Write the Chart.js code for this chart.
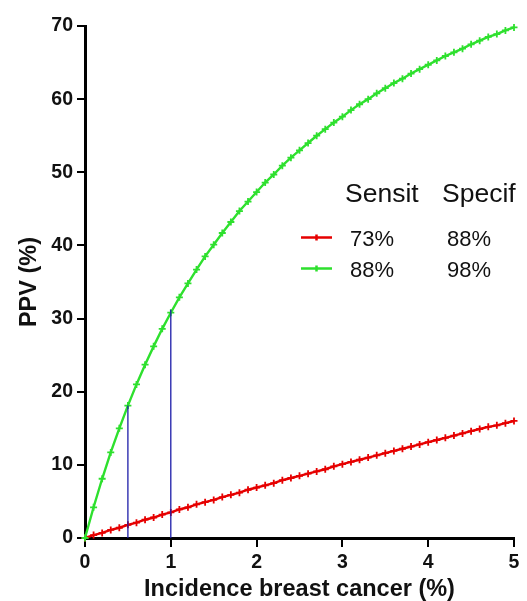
<!DOCTYPE html>
<html>
<head>
<meta charset="utf-8">
<title>PPV vs incidence</title>
<script src="https://cdn.jsdelivr.net/npm/chart.js@4"></script>
<style>
  body { margin: 0; background: #fff; }
  canvas { display: block; }
</style>
</head>
<body>
<canvas id="ppv-chart" width="527" height="601"></canvas>
<script>
// Incidence of breast cancer (%), one point every 0.1
const incidence = [
    0, 0.1, 0.2, 0.3, 0.4, 0.5, 0.6, 0.7, 0.8, 0.9,
    1.0, 1.1, 1.2, 1.3, 1.4, 1.5, 1.6, 1.7, 1.8, 1.9,
    2.0, 2.1, 2.2, 2.3, 2.4, 2.5, 2.6, 2.7, 2.8, 2.9,
    3.0, 3.1, 3.2, 3.3, 3.4, 3.5, 3.6, 3.7, 3.8, 3.9,
    4.0, 4.1, 4.2, 4.3, 4.4, 4.5, 4.6, 4.7, 4.8, 4.9, 5.0
];

// PPV (%) (sensit 73%, specif 88%)
const ppvRed = [
    0, 0.4, 0.7, 1.1, 1.4, 1.8, 2.1, 2.5, 2.8, 3.2,
    3.5, 3.9, 4.2, 4.6, 4.9, 5.2, 5.6, 5.9, 6.2, 6.6,
    6.9, 7.2, 7.5, 7.9, 8.2, 8.5, 8.8, 9.1, 9.4, 9.8,
    10.1, 10.4, 10.7, 11.0, 11.3, 11.6, 11.9, 12.2, 12.5, 12.8,
    13.1, 13.4, 13.7, 14.0, 14.3, 14.6, 14.9, 15.2, 15.4, 15.7, 16.0
];

// PPV (%) (sensit 88%, specif 98%)
const ppvGreen = [
    0, 4.2, 8.1, 11.7, 15.0, 18.1, 21.0, 23.7, 26.2, 28.6,
    30.8, 32.9, 34.8, 36.7, 38.5, 40.1, 41.7, 43.2, 44.7, 46.0,
    47.3, 48.6, 49.7, 50.9, 52.0, 53.0, 54.0, 55.0, 55.9, 56.8,
    57.6, 58.5, 59.3, 60.0, 60.8, 61.5, 62.2, 62.8, 63.5, 64.1,
    64.7, 65.3, 65.9, 66.4, 66.9, 67.5, 68.0, 68.5, 68.9, 69.4, 69.8
];

// blue drop lines at 0.5% and 1% incidence
const markerIncidence = [0.5, 1];
const markerPpv = [18.1, 31.2];

// legend table
const legendSensit = ["73%", "88%"];
const legendSpecif = ["88%", "98%"];
const legendColors = ["#e60000", "#2ee02e"];

const xTicks = [0, 1, 2, 3, 4, 5];
const yTicks = [0, 10, 20, 30, 40, 50, 60, 70];

const FONT = "'Liberation Sans', Arial, sans-serif";

function toPoints(xs, ys) {
    return xs.map((x, i) => ({ x: x, y: ys[i] }));
}

const dropLines = markerIncidence.map((x, i) => ({
    data: [{ x: x, y: 0 }, { x: x, y: markerPpv[i] }],
    borderColor: "#1c1ca8",
    borderWidth: 1.3,
    pointRadius: 0,
    order: 0,
}));

// table-like legend drawn to the right of the curves
const tableLegend = {
    id: "tableLegend",
    afterDraw(chart) {
        const c = chart.ctx;
        c.save();
        c.fillStyle = "#111";
        c.textBaseline = "alphabetic";
        c.font = "26.5px " + FONT;
        c.fillText("Sensit", 345, 202);
        c.fillText("Specif", 442, 202);
        c.font = "22px " + FONT;
        const rowY = [246, 277];
        legendSensit.forEach((s, i) => {
            const ly = rowY[i] - 8.5;
            c.strokeStyle = legendColors[i];
            c.lineWidth = 2.5;
            c.beginPath();
            c.moveTo(301, ly);
            c.lineTo(332, ly);
            c.moveTo(316.5, ly - 3);
            c.lineTo(316.5, ly + 3);
            c.stroke();
            c.fillStyle = "#111";
            c.fillText(s, 350, rowY[i]);
            c.fillText(legendSpecif[i], 447, rowY[i]);
        });
        c.restore();
    },
};

const ctx = document.getElementById("ppv-chart").getContext("2d");
new Chart(ctx, {
    type: "line",
    data: {
        datasets: [
            ...dropLines,
            {
                label: "73% / 88%",
                data: toPoints(incidence, ppvRed),
                borderColor: legendColors[0],
                backgroundColor: legendColors[0],
                borderWidth: 2.4,
                pointStyle: "cross",
                pointRadius: 3.5,
                pointBorderWidth: 1.8,
                order: 2,
            },
            {
                label: "88% / 98%",
                data: toPoints(incidence, ppvGreen),
                borderColor: legendColors[1],
                backgroundColor: legendColors[1],
                borderWidth: 2.4,
                pointStyle: "cross",
                pointRadius: 3.5,
                pointBorderWidth: 1.8,
                order: 1,
            },
        ],
    },
    options: {
        responsive: false,
        animation: false,
        clip: false,
        layout: { padding: { left: 0, top: 26, right: 13, bottom: 0 } },
        plugins: {
            legend: { display: false },
            tooltip: { enabled: false },
        },
        scales: {
            x: {
                type: "linear",
                min: 0,
                max: 5,
                afterBuildTicks: (scale) => { scale.ticks = xTicks.map((v) => ({ value: v })); },
                afterFit: (scale) => { scale.height = 63; },
                grid: { drawOnChartArea: false, color: "#000", lineWidth: 2, tickLength: 9 },
                border: { color: "#000", width: 3 },
                ticks: { color: "#111", padding: 4, font: { family: FONT, size: 19.5, weight: "bold" } },
                title: {
                    display: true,
                    text: "Incidence breast cancer (%)",
                    color: "#111",
                    padding: { top: 0, bottom: 0 },
                    font: { family: FONT, size: 23.5, weight: "bold", lineHeight: 1 },
                },
            },
            y: {
                type: "linear",
                min: 0,
                max: 70,
                afterBuildTicks: (scale) => { scale.ticks = yTicks.map((v) => ({ value: v })); },
                afterFit: (scale) => { scale.width = 85; },
                grid: { drawOnChartArea: false, color: "#000", lineWidth: 2, tickLength: 8 },
                border: { color: "#000", width: 3 },
                ticks: { color: "#111", padding: 4, font: { family: FONT, size: 19.5, weight: "bold" } },
                title: {
                    display: true,
                    text: "PPV (%)",
                    color: "#111",
                    padding: { top: 17.5, bottom: 0 },
                    font: { family: FONT, size: 23.5, weight: "bold", lineHeight: 1 },
                },
            },
        },
    },
    plugins: [tableLegend],
});
</script>
</body>
</html>
